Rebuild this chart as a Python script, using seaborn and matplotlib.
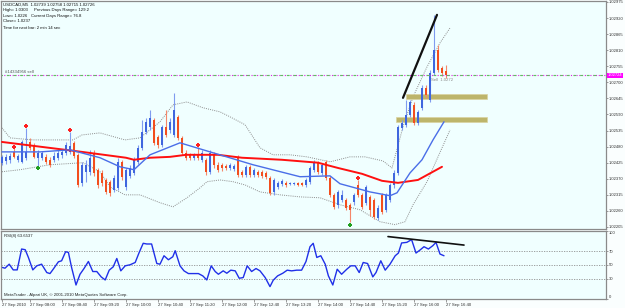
import numpy as np
import pandas as pd
import matplotlib
matplotlib.use("Agg")
import matplotlib.pyplot as plt
import matplotlib.transforms as mtransforms
from matplotlib.patches import Rectangle
import seaborn as sns

# ---------------- data ----------------
opens = [1.02425,1.02431,1.02435,1.02462,1.02435,1.02428,1.02442,1.02496,1.02486,1.02442,
         1.02442,1.02445,1.02435,1.02435,1.02442,1.02452,1.02459,1.02462,1.02493,1.02452,
         1.02356,1.02394,1.02394,1.02459,1.02401,1.02390,1.02366,1.02360,1.02332,1.02339,
         1.02428,1.02342,1.02380,1.02390,1.02428,1.02476,1.02531,1.02548,1.02572,1.02513,
         1.02486,1.02548,1.02537,1.02520,1.02582,1.02510,1.02459,1.02452,1.02442,1.02452,
         1.02435,1.02435,1.02394,1.02452,1.02418,1.02418,1.02414,1.02407,1.02404,1.02445,
         1.02394,1.02384,1.02411,1.02384,1.02394,1.02394,1.02390,1.02373,1.02325,1.02342,
         1.02353,1.02356,1.02353,1.02353,1.02356,1.02356,1.02349,1.02360,1.02401,1.02425,
         1.02390,1.02428,1.02373,1.02315,1.02281,1.02298,1.02298,1.02281,1.02291,1.02349,
         1.02315,1.02288,1.02308,1.02298,1.02236,1.02315,1.02264,1.02298,1.02349,1.02390,
         1.02544,1.02555,1.02589,1.02623,1.02561,1.02613,1.02681,1.02640,1.02732,1.02811,
         1.02749,1.02739]
highs = [1.02452,1.02455,1.02459,1.02476,1.02455,1.02503,1.02544,1.02510,1.02493,1.02469,
         1.02466,1.02455,1.02445,1.02462,1.02469,1.02472,1.02496,1.02531,1.02500,1.02459,
         1.02428,1.02435,1.02469,1.02469,1.02407,1.02401,1.02373,1.02366,1.02384,1.02442,
         1.02435,1.02407,1.02418,1.02445,1.02486,1.02572,1.02579,1.02606,1.02579,1.02520,
         1.02555,1.02606,1.02579,1.02664,1.02589,1.02517,1.02469,1.02459,1.02459,1.02479,
         1.02469,1.02442,1.02469,1.02462,1.02428,1.02425,1.02421,1.02425,1.02421,1.02452,
         1.02401,1.02418,1.02418,1.02407,1.02401,1.02401,1.02397,1.02380,1.02373,1.02363,
         1.02370,1.02363,1.02360,1.02360,1.02360,1.02360,1.02373,1.02414,1.02435,1.02431,
         1.02425,1.02435,1.02380,1.02322,1.02332,1.02332,1.02305,1.02288,1.02322,1.02366,
         1.02322,1.02349,1.02315,1.02305,1.02281,1.02322,1.02322,1.02356,1.02401,1.02555,
         1.02572,1.02640,1.02640,1.02633,1.02606,1.02691,1.02691,1.02743,1.02931,1.02828,
         1.02756,1.02758]
lows = [1.02418,1.02421,1.02425,1.02442,1.02428,1.02425,1.02435,1.02469,1.02442,1.02414,
        1.02435,1.02421,1.02411,1.02428,1.02435,1.02442,1.02452,1.02455,1.02442,1.02342,
        1.02346,1.02360,1.02384,1.02380,1.02339,1.02346,1.02319,1.02312,1.02325,1.02332,
        1.02366,1.02332,1.02373,1.02384,1.02421,1.02469,1.02524,1.02537,1.02486,1.02476,
        1.02479,1.02513,1.02527,1.02513,1.02503,1.02452,1.02435,1.02435,1.02435,1.02435,
        1.02428,1.02384,1.02387,1.02407,1.02394,1.02397,1.02401,1.02401,1.02397,1.02377,
        1.02377,1.02377,1.02377,1.02377,1.02377,1.02373,1.02370,1.02315,1.02315,1.02336,
        1.02346,1.02342,1.02349,1.02349,1.02346,1.02346,1.02342,1.02353,1.02394,1.02387,
        1.02384,1.02366,1.02308,1.02267,1.02271,1.02291,1.02264,1.02223,1.02281,1.02308,
        1.02267,1.02281,1.02243,1.02233,1.02230,1.02250,1.02257,1.02291,1.02339,1.02384,
        1.02537,1.02548,1.02582,1.02555,1.02555,1.02606,1.02647,1.02633,1.02725,1.02736,
        1.02722,1.02715]
closes = [1.02445,1.02445,1.02449,1.02445,1.02449,1.02496,1.02462,1.02476,1.02445,1.02459,
          1.02459,1.02428,1.02418,1.02449,1.02459,1.02462,1.02486,1.02483,1.02449,1.02349,
          1.02418,1.02418,1.02442,1.02390,1.02349,1.02356,1.02325,1.02322,1.02373,1.02428,
          1.02377,1.02401,1.02407,1.02435,1.02476,1.02531,1.02565,1.02579,1.02493,1.02486,
          1.02548,1.02520,1.02565,1.02606,1.02510,1.02459,1.02442,1.02442,1.02452,1.02442,
          1.02459,1.02394,1.02459,1.02418,1.02401,1.02407,1.02407,1.02418,1.02414,1.02384,
          1.02384,1.02411,1.02384,1.02401,1.02384,1.02380,1.02377,1.02322,1.02366,1.02356,
          1.02363,1.02349,1.02356,1.02356,1.02349,1.02349,1.02366,1.02407,1.02425,1.02394,
          1.02418,1.02373,1.02315,1.02274,1.02325,1.02315,1.02271,1.02264,1.02315,1.02315,
          1.02274,1.02342,1.02264,1.02240,1.02271,1.02257,1.02315,1.02349,1.02390,1.02548,
          1.02561,1.02589,1.02633,1.02561,1.02599,1.02681,1.02657,1.02732,1.02811,1.02743,
          1.02732,1.02726]

# moving averages / bands: (bar position, price)
red_ma_bar = [0, 10, 20, 31, 33, 37, 42, 46, 54, 60, 70, 79, 84, 90, 95, 99, 104, 110]
red_ma = [1.02496, 1.02479, 1.02462, 1.02442, 1.02435, 1.02442, 1.02445, 1.02452, 1.02452,
          1.02442, 1.02435, 1.02425, 1.02407, 1.02387, 1.02363, 1.02356, 1.02366, 1.02411]
blue_ma_bar = [0, 9.5, 17, 24.5, 29.5, 33, 37, 44.5, 52.75, 62.75, 74.5, 82, 84.5, 92, 97,
               98.75, 102, 105, 107.75, 110.5]
blue_ma = [1.02462, 1.02462, 1.02469, 1.02442, 1.02411, 1.02401, 1.02452, 1.02493, 1.02459,
           1.02418, 1.02377, 1.02380, 1.02353, 1.02325, 1.02312, 1.02322, 1.02390, 1.02435,
           1.02503, 1.02565]
bb_up_bar = [0, 2, 7.75, 17.75, 20, 24.5, 30.75, 34.5, 39.5, 42.75, 46.25, 50.25, 54.5, 57,
             60.75, 64.5, 67.75, 72, 76.25, 82, 87, 90.75, 95.25, 97.5, 100.25, 102.75,
             106.25, 109.5, 112]
bb_up = [1.02544, 1.02510, 1.02503, 1.02503, 1.02520, 1.02527, 1.02503, 1.02510, 1.02565,
         1.02623, 1.02633, 1.02613, 1.02599, 1.02582, 1.02555, 1.02476, 1.02452, 1.02452,
         1.02445, 1.02428, 1.02445, 1.02445, 1.02431, 1.02407, 1.02548, 1.02650, 1.02753,
         1.02835, 1.02886]
bb_lo_bar = [0, 4.5, 12, 20.25, 24.5, 27, 30.75, 34.5, 39.5, 42.75, 46.25, 49.5, 51.25, 54.5,
             57.75, 60.75, 64.5, 69.5, 74.5, 79.5, 84.5, 89.5, 94.5, 98.25, 100.75, 102.75,
             106.25, 109, 112]
bb_lo = [1.02394, 1.02401, 1.02418, 1.02425, 1.02394, 1.02342, 1.02315, 1.02315, 1.02288,
         1.02274, 1.02305, 1.02339, 1.02360, 1.02366, 1.02360, 1.02349, 1.02325, 1.02315,
         1.02308, 1.02305, 1.02281, 1.02264, 1.02223, 1.02213, 1.02223, 1.02281, 1.02360,
         1.02445, 1.02537]

fractal_up_bar = [3, 6, 17, 49, 89]
fractal_up = [1.02479, 1.02551, 1.02537, 1.02486, 1.02373]
fractal_dn_bar = [9, 87]
fractal_dn = [1.02407, 1.02213]

# RSI(8): position (in bars) and value of each vertex
rsi_bar = [-0.5, 0.75, 1.8, 2.8, 3.8, 4.9, 5.8, 6.6, 7.7, 8.7, 9.9, 11.2, 12.0, 12.8, 14.1,
           14.9, 15.9, 16.6, 17.4, 18.5, 19.5, 20.5, 21.6, 22.7, 23.7, 24.8, 25.8, 26.8,
           27.8, 28.7, 29.7, 30.8, 32.0, 33.3, 34.3, 35.3, 36.2, 37.4, 38.7, 39.5, 40.5,
           41.6, 42.7, 43.3, 44.5, 45.5, 46.6, 47.8, 49.1, 50.2, 51.2, 52.3, 53.3, 54.1,
           55.3, 56.2, 57.2, 58.3, 59.3, 60.3, 61.3, 62.4, 63.5, 64.5, 65.8, 67.0, 67.8,
           68.9, 70.2, 71.3, 72.4, 73.7, 74.9, 76.0, 77.0, 77.8, 78.7, 79.7, 80.8, 81.6,
           82.7, 83.8, 84.9, 86.2, 87.2, 88.3, 89.3, 90.3, 91.4, 92.7, 93.5, 94.7, 95.8,
           97.0, 98.3, 99.1, 99.9, 101.2, 102.4, 103.5, 104.5, 105.5, 106.6, 107.7, 108.5,
           109.5, 110.5]
rsi = [47.3, 45.3, 51.2, 42.8, 42.8, 73.5, 72.5, 61.1, 42.8, 48.8, 51.2, 38.9, 37.4, 43.8,
       54.7, 56.2, 69.5, 68.5, 46.3, 20.6, 36.4, 44.8, 55.2, 40.4, 40.4, 32.5, 28.0, 42.4,
       47.3, 59.6, 41.4, 48.8, 50.3, 53.7, 68.5, 81.9, 80.9, 80.9, 52.2, 51.2, 63.6, 57.7,
       62.1, 71.0, 48.8, 41.4, 37.4, 37.4, 37.4, 34.0, 28.0, 48.8, 40.4, 36.4, 41.4, 37.9,
       42.4, 41.4, 30.5, 31.5, 48.8, 40.4, 44.8, 41.4, 31.5, 18.2, 27.6, 34.0, 37.9, 42.4,
       41.4, 42.4, 42.4, 55.2, 76.9, 81.9, 61.1, 63.6, 51.2, 34.0, 20.6, 43.8, 36.4, 43.8,
       48.8, 48.8, 38.9, 53.7, 52.2, 32.5, 38.9, 56.2, 42.4, 51.2, 63.6, 67.6, 82.4, 83.3,
       87.3, 67.6, 72.0, 76.9, 73.5, 78.4, 83.3, 66.1, 63.6]

time_tick_bars = [0, 7, 15, 23, 31, 39, 47, 55, 63, 71, 79, 87, 95, 103, 111]
time_labels = ["27 Sep 2010", "27 Sep 08:00", "27 Sep 08:40", "27 Sep 09:20", "27 Sep 10:00",
               "27 Sep 10:40", "27 Sep 11:20", "27 Sep 12:00", "27 Sep 12:40", "27 Sep 13:20",
               "27 Sep 14:00", "27 Sep 14:40", "27 Sep 15:20", "27 Sep 16:00", "27 Sep 16:40"]
price_ticks = [1.02975, 1.02920, 1.02865, 1.02810, 1.02755, 1.02700, 1.02645, 1.02590,
               1.02535, 1.02480, 1.02425, 1.02370, 1.02315, 1.02260, 1.02205]
price_labels = ["1.02975", "1.02920", "1.02865", "1.02810", "1.02755", "1.02700", "1.02645",
                "1.02590", "1.02535", "1.02480", "1.02425", "1.02370", "1.02315", "1.02260",
                "1.02205"]
rsi_ticks = [100, 70, 50, 30, 0]
rsi_levels = [70, 50, 30]
sell_price = 1.02724
sell_text_bar = 107.3
sell_text_price = 1.02708
zone_bars = [(101, 121.25), (98.5, 121.25)]
zone_prices = [(1.02643, 1.02661), (1.02564, 1.02581)]
trend_bars = [100.25, 108.75]
trend_prices = [1.02647, 1.02931]
rsi_trend_bars = [96.5, 115.5]
rsi_trend_vals = [91.8, 79.3]

# ---------------- style ----------------
sns.set_style("white")
plt.rcParams['font.family'] = ['Liberation Sans', 'DejaVu Sans']
FS = 3.1
BG = "#F0FFFF"
BULL = "#3F66DE"
BULL_W = "#7F9BEF"
BEAR = "#F24E1E"
BEAR_W = "#F5876A"
W, H = 625, 308

def fr(x0, y0, x1, y1):
    return [x0 / W, 1 - y1 / H, (x1 - x0) / W, (y1 - y0) / H]

fig = plt.figure(figsize=(6.25, 3.08), dpi=100, facecolor="#FAFEFE")
ax = fig.add_axes(fr(1, 1, 606, 229))
axr = fig.add_axes(fr(1, 231, 606, 299))
for a in (ax, axr):
    a.set_facecolor(BG)
    for s in a.spines.values():
        s.set_color("#8A8A8A")
        s.set_linewidth(0.9)

nb = len(opens)
xb = np.arange(nb)
XMIN, XMAX = -0.25, -0.25 + 605 / 4
ax.set_xlim(XMIN, XMAX)
axr.set_xlim(XMIN, XMAX)
ax.set_ylim(1.021981, 1.029784)
axr.set_ylim(0, 100)

df = pd.DataFrame({"bar": xb, "open": opens, "high": highs, "low": lows, "close": closes})
df["bull"] = df["close"] >= df["open"]

# bands
sns.lineplot(x=bb_up_bar, y=bb_up, ax=ax, color="#8C8C8C", lw=0.7, linestyle=(0, (1, 1.2)))
sns.lineplot(x=bb_lo_bar, y=bb_lo, ax=ax, color="#8C8C8C", lw=0.7, linestyle=(0, (1, 1.2)))

# order text near the last bars
ax.text(sell_text_bar, sell_text_price, "Sell  1.0272", fontsize=FS, color="#8A8A8A",
        ha="left", va="center", zorder=2)

# candles
for _, r in df.iterrows():
    wc = BULL_W if r["bull"] else BEAR_W
    bc = BULL if r["bull"] else BEAR
    ax.vlines(r["bar"], r["low"], r["high"], color=wc, lw=0.8, zorder=3)
    lo = min(r["open"], r["close"])
    h = max(abs(r["close"] - r["open"]), 0.000025)
    ax.bar(r["bar"], h, bottom=lo, width=0.7, color=bc, lw=0, zorder=4)

# moving averages
sns.lineplot(x=red_ma_bar, y=red_ma, ax=ax, color="#FF1010", lw=1.4, zorder=5)
sns.lineplot(x=blue_ma_bar, y=blue_ma, ax=ax, color="#4A6EE8", lw=1.0, zorder=5)

# fractals
sns.scatterplot(x=fractal_up_bar, y=fractal_up, ax=ax, color="#FF2020", marker="P", s=9,
                linewidth=0, zorder=6)
sns.scatterplot(x=fractal_dn_bar, y=fractal_dn, ax=ax, color="#20A020", marker="P", s=9,
                linewidth=0, zorder=6)

# zones
for (b0, b1), (p0, p1) in zip(zone_bars, zone_prices):
    ax.add_patch(Rectangle((b0, p0), b1 - b0, p1 - p0, facecolor="#BDB56B",
                           edgecolor="#D9D3A0", lw=0.5, zorder=2))

# trend line
ax.plot(trend_bars, trend_prices, color="#101010", lw=1.6, zorder=7)

# sell order line
blend = mtransforms.blended_transform_factory(ax.transAxes, ax.transData)
ax.axhline(sell_price, color="#E020E0", lw=0.8, linestyle=(0, (1, 1.5)), zorder=6)
ax.axhline(sell_price, color="#60C060", lw=0.8, linestyle=(1.2, (2.5, 3.5)), zorder=6)
ax.text(0.006, sell_price + 0.00005, "#14334956 sell", fontsize=FS, color="#505050",
        transform=blend, ha="left", va="bottom")
ax.text(1.0025, sell_price, "1.02724", fontsize=FS * 0.95, color="white", transform=blend,
        ha="left", va="center", zorder=10, clip_on=False,
        bbox=dict(facecolor="#FF00FF", edgecolor="none", pad=0.3))

# price axis
ax.set_xticks([])
ax.yaxis.tick_right()
ax.set_yticks(price_ticks)
ax.set_yticklabels(price_labels)
ax.tick_params(axis="y", which="both", right=True, length=1.5, width=0.6, color="#8A8A8A",
               labelsize=FS * 0.95, pad=0.6, labelcolor="#303030")
ax.set_xlabel("")
ax.set_ylabel("")

# header text
hdr = [("USDCAD,M5  1.02739 1.02758 1.02715 1.02726", 3, 5),
       ("High= 1.0303", 3, 10.5), ("Previous Days Range= 129.2", 34, 10.5),
       ("Low= 1.0226", 3, 16), ("Current Days Range= 76.8", 31, 16),
       ("Close= 1.0237", 3, 21.5), ("Time for next bar: 2 min 14 sec", 3, 28)]
for t, px, py in hdr:
    fig.text(px / W, 1 - py / H, t, fontsize=FS, color="#101010", ha="left", va="center")

# RSI panel
for lv in rsi_levels:
    axr.axhline(lv, color="#909090", lw=0.6, linestyle=(0, (1.5, 1.5)))
sns.lineplot(x=rsi_bar, y=rsi, ax=axr, color="#2030E8", lw=1.0, sort=False)
axr.plot(rsi_trend_bars, rsi_trend_vals, color="#101010", lw=1.2)
axr.yaxis.tick_right()
axr.set_yticks(rsi_ticks)
axr.set_yticklabels([str(v) for v in rsi_ticks])
for lab in axr.get_yticklabels():
    if lab.get_text() == "100":
        lab.set_va("top")
    elif lab.get_text() == "0":
        lab.set_va("bottom")
axr.tick_params(axis="y", right=True, length=1.5, width=0.6, color="#8A8A8A",
                labelsize=FS * 0.95, pad=0.6, labelcolor="#303030")
axr.set_xticks(time_tick_bars)
axr.set_xticklabels(time_labels, ha="left")
axr.tick_params(axis="x", bottom=True, length=2, width=0.6, color="#8A8A8A", labelsize=FS,
                pad=1, labelcolor="#303030")
axr.set_xlabel("")
axr.set_ylabel("")
axr.text(3 / 605, 1 - 3 / 68, "RSI(8) 63.6537", transform=axr.transAxes, fontsize=FS,
         color="#202020", ha="left", va="top")
axr.text(3 / 605, 4 / 68, "MetaTrader - Alpari UK, \u00a9 2001-2010 MetaQuotes Software Corp.",
         transform=axr.transAxes, fontsize=FS, color="#202020", ha="left", va="center")

fig.savefig("out.png", dpi=100, facecolor=fig.get_facecolor())
